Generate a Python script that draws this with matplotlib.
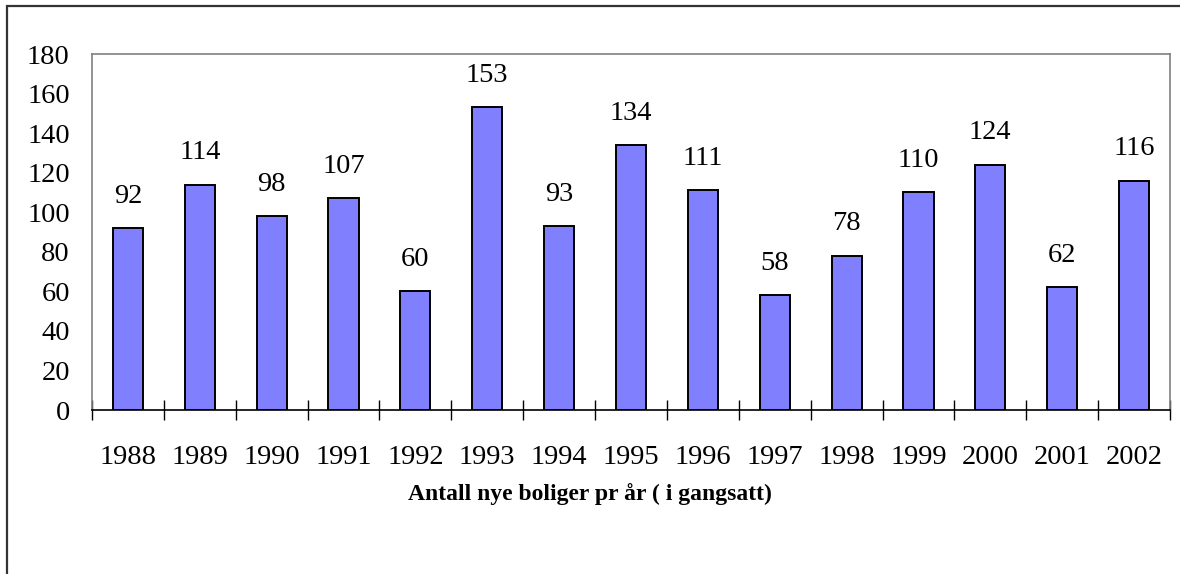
import matplotlib.pyplot as plt
from matplotlib.patches import Rectangle

years = ['1988', '1989', '1990', '1991', '1992', '1993', '1994', '1995',
         '1996', '1997', '1998', '1999', '2000', '2001', '2002']
boliger = [92, 114, 98, 107, 60, 153, 93, 134, 111, 58, 78, 110, 124, 62, 116]
y_ticks = [0, 20, 40, 60, 80, 100, 120, 140, 160, 180]
title = 'Antall nye boliger pr år ( i gangsatt)'

plt.rcParams['font.family'] = ['Liberation Serif', 'DejaVu Serif']

W, H = 1180, 574
fig = plt.figure(figsize=(W / 100, H / 100), dpi=100)

# plot area in pixel coords
left, right, top, bottom = 92, 1170, 54, 410
ax = fig.add_axes([left / W, 1 - bottom / H, (right - left) / W, (bottom - top) / H])

x = range(len(years))
ax.bar(x, boliger, width=0.42, color='#8080FF', edgecolor='black', linewidth=1.4, zorder=3)

for xi, v in zip(x, boliger):
    ax.annotate(str(v), (xi, v), xytext=(0, 14), textcoords='offset points',
                ha='center', va='bottom', fontsize=20.5)

ax.set_xlim(-0.5, len(years) - 0.5)
ax.set_ylim(0, 180)

# boundary ticks crossing the zero line, labels centred under the bars
ax.set_xticks([i - 0.5 for i in range(len(years) + 1)])
ax.set_xticklabels([])
ax.tick_params(axis='x', which='major', direction='inout', length=14.4, width=1, color='black')
ax.set_xticks(list(x), minor=True)
ax.set_xticklabels(years, minor=True, fontsize=20.5)
ax.tick_params(axis='x', which='minor', length=0, pad=25)

ax.set_yticks(y_ticks)
ax.set_yticklabels([str(t) for t in y_ticks], fontsize=20.5)
ax.tick_params(axis='y', length=0, pad=16)

for s in ['left', 'top', 'right']:
    ax.spines[s].set_color('#808080')
    ax.spines[s].set_linewidth(1.2)
ax.spines['bottom'].set_color('black')
ax.spines['bottom'].set_linewidth(1.2)

fig.text(590 / W, 1 - 494 / H, title, ha='center', va='center', fontsize=17, fontweight='bold')

# outer chart border (only left and top are inside the crop)
fig.add_artist(Rectangle((7 / W, -0.1), 1.2, 1.1 - 6 / H, transform=fig.transFigure,
                         fill=False, edgecolor='#333333', linewidth=1.6))

fig.savefig('out.png', dpi=100, facecolor='white')
